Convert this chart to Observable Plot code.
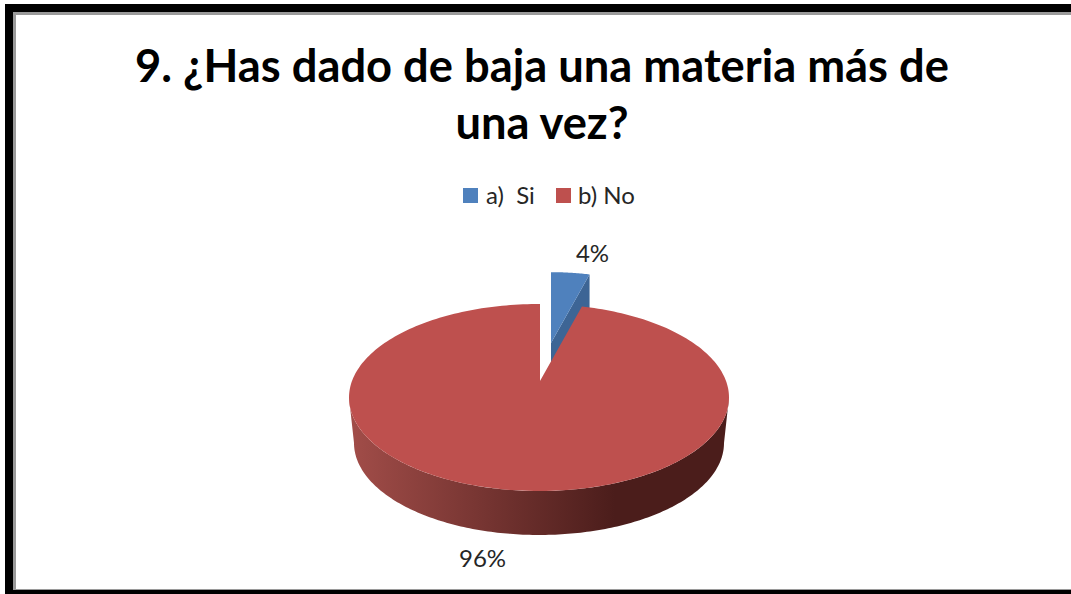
<!DOCTYPE html>
<html lang="es">
<head>
<meta charset="utf-8">
<script src="https://cdn.jsdelivr.net/npm/d3@7"></script>
<script src="https://cdn.jsdelivr.net/npm/@observablehq/plot@0.6"></script>
<style>
  html, body { margin: 0; padding: 0; background: #fff; }
  #page { position: relative; width: 1071px; height: 594px; overflow: hidden; font-family: Lato, sans-serif; }
  #frame { position: absolute; left: 5px; top: 4px; right: 0; bottom: 0; box-sizing: border-box;
           border-left: 8px solid #000; border-top: 8px solid #000; border-bottom: 4px solid #000; }
  #frame > div { width: 100%; height: 100%; box-sizing: border-box;
           border-left: 3px solid #9a9a9a; border-top: 3px solid #9a9a9a; border-bottom: 1px solid #9a9a9a; }
  #chart { position: absolute; left: 0; top: 0; }
  #chart svg { display: block; background: transparent; }
  h1 { position: absolute; left: 135px; width: 814px; top: 36px; margin: 0; text-align: center;
       font-size: 45.3px; line-height: 57px; font-weight: 700; color: #000; white-space: nowrap; }
  #legend { position: absolute; top: 180px; left: 0; height: 30px; font-size: 24px; line-height: 30px; color: #262626; }
  #legend span { position: absolute; white-space: pre; }
  #legend i { position: absolute; top: 8px; width: 15px; height: 15px; }
</style>
</head>
<body>
<div id="page">
  <div id="frame"><div></div></div>
  <div id="chart"></div>
  <h1></h1>
  <div id="legend"></div>
</div>
<script>
const titleLines = ["9. ¿Has dado de baja una materia más de", "una vez?"];
const categories = ["a)  Si", "b) No"];
const percents = [4, 96];
const colors = ["#4F81BD", "#BE504E"];

// Layout of the tilted pie, in page pixels
const W = 1071, H = 594;
const rim = {cx: 539, cy: 397.5, rx: 190, ry: 93.5};
const floor = {cx: 539, cy: 443, rx: 185, ry: 92};
const apex = {x: 540, y: 381};
const tilt = 0.457;           // vertical foreshortening of the pie plane
const liftedApex = {x: 551, y: 343};
const liftedScale = 0.92;
const depth = 44;

// Where a ray leaving the apex at pie angle theta (clockwise from 12 o'clock) meets the rim
function rimPoint(theta) {
  const dx = Math.sin(theta), dy = -tilt * Math.cos(theta);
  const ox = (apex.x - rim.cx) / rim.rx, oy = (apex.y - rim.cy) / rim.ry;
  const ux = dx / rim.rx, uy = dy / rim.ry;
  const a = ux * ux + uy * uy, b = 2 * (ox * ux + oy * uy), c = ox * ox + oy * oy - 1;
  const t = (-b + Math.sqrt(b * b - 4 * a * c)) / (2 * a);
  return {x: apex.x + t * dx, y: apex.y + t * dy};
}

const total = d3.sum(percents);
const siSweep = (percents[0] / total) * 2 * Math.PI;
const noSweep = (percents[1] / total) * 2 * Math.PI;
const steps = 240;

// The red slice runs clockwise from the end of the blue one, all the way back to 12 o'clock
const noFan = d3.range(steps + 1).map(i => {
  const p = rimPoint(siSweep + (noSweep * i) / steps);
  return {x1: apex.x, y1: apex.y, x2: p.x, y2: p.y};
});

// The blue slice is pulled away from the pie and drawn a little smaller
const lift = p => ({
  x: liftedApex.x + liftedScale * (p.x - apex.x),
  y: liftedApex.y + liftedScale * (p.y - apex.y)
});
const siFan = d3.range(25).map(i => {
  const p = lift(rimPoint((siSweep * i) / 24));
  return {x1: liftedApex.x, y1: liftedApex.y, x2: p.x, y2: p.y};
});
const siEnd = lift(rimPoint(siSweep));
const siCut = [
  {x1: liftedApex.x, y1: liftedApex.y, x2: liftedApex.x, y2: liftedApex.y + depth * liftedScale},
  {x1: siEnd.x, y1: siEnd.y, x2: siEnd.x, y2: siEnd.y + depth * liftedScale}
];

// Visible wall of the pie: the front half between the rim and the floor
const wall = d3.range(181).map(i => {
  const phi = (Math.PI * i) / 180;
  return {
    x1: rim.cx + rim.rx * Math.cos(phi), y1: rim.cy + rim.ry * Math.sin(phi),
    x2: floor.cx + floor.rx * Math.cos(phi), y2: floor.cy + floor.ry * Math.sin(phi)
  };
});

const labelPlaces = [{x: 592, y: 254}, {x: 482, y: 559}];
const labels = percents.map((v, i) => ({...labelPlaces[i], text: `${v}%`}));

const fan = (data, fill) => Plot.area(data, {x1: "x1", y1: "y1", x2: "x2", y2: "y2", fill});

const wallShade = () => {
  const svg = d3.create("svg:defs");
  const g = svg.append("linearGradient").attr("id", "wall-shade")
    .attr("gradientUnits", "userSpaceOnUse")
    .attr("x1", rim.cx - rim.rx).attr("x2", rim.cx + rim.rx).attr("y1", 0).attr("y2", 0);
  [[0, "#a24d49"], [0.7, "#4b1d1b"], [1, "#4b1d1b"]].forEach(([o, c]) =>
    g.append("stop").attr("offset", o).attr("stop-color", c));
  return svg.node();
};

const plot = Plot.plot({
  width: W,
  height: H,
  margin: 0,
  style: {background: "transparent"},
  x: {domain: [0, W], range: [0, W], axis: null},
  y: {domain: [0, H], range: [0, H], axis: null},
  marks: [
    wallShade,
    fan(siCut, "#3d6595"),
    fan(siFan, colors[0]),
    fan(wall, "url(#wall-shade)"),
    fan(noFan, colors[1]),
    Plot.text(labels, {
      x: "x", y: "y", text: "text",
      fontSize: 24, fontFamily: "Lato, sans-serif", fill: "#262626"
    })
  ]
});
document.getElementById("chart").append(plot);

document.querySelector("h1").innerHTML = titleLines.join("<br>");

// Legend swatches and entries
const legend = d3.select("#legend");
const legendPlaces = [{box: 463, text: 486}, {box: 556, text: 578}];
categories.forEach((name, i) => {
  legend.append("i").style("left", legendPlaces[i].box + "px").style("background", colors[i]);
  legend.append("span").style("left", legendPlaces[i].text + "px").text(name);
});
</script>
</body>
</html>
